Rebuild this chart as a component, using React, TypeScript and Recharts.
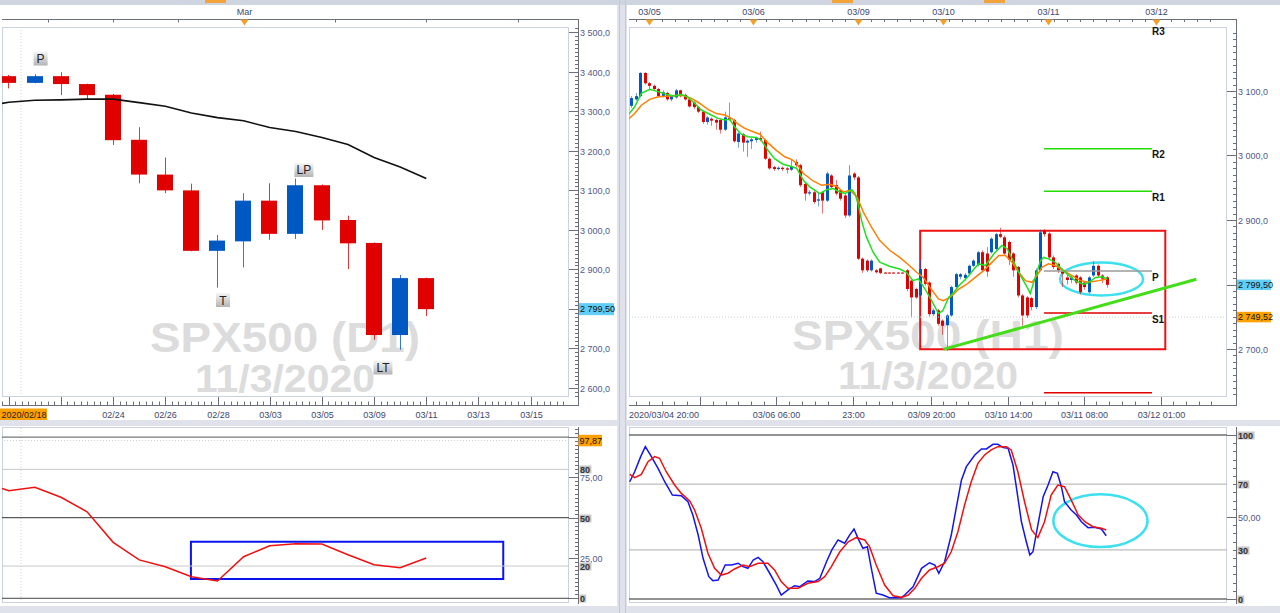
import React from 'react'
import {
  ComposedChart,
  Bar,
  Line,
  XAxis,
  YAxis,
  ReferenceLine,
  ReferenceArea,
  ReferenceDot,
} from 'recharts'

const FONT = '"Liberation Sans", Arial, sans-serif'
const RED = '#e00000'
const BLUE = '#0058c2'
const AXIS_TXT = '#4f5a8a'
const DATE_TXT = '#3c4670'
const RULER = '#6b6f7c'
const FRAME = '#cbd1de'
const ORANGE = '#ffa100'
const CYAN = '#62cdf6'

// ---------- D1 ----------
const dailyDates = ['02/18', '02/19', '02/20', '02/21', '02/24', '02/25', '02/26', '02/27', '02/28', '03/02', '03/03', '03/04', '03/05', '03/06', '03/09', '03/10', '03/11']
const dailyOpen = [3389, 3372, 3389, 3369, 3342, 3228, 3140, 3100, 2947, 2971, 3074, 2990, 3113, 3025, 2967, 2734, 2878]
const dailyHigh = [3392, 3394, 3399, 3370, 3344, 3260, 3183, 3117, 2987, 3093, 3118, 3130, 3115, 3036, 2968, 2886, 2879]
const dailyLow = [3358, 3371, 3341, 3330, 3215, 3118, 3093, 2946, 2854, 2905, 2975, 2977, 3000, 2901, 2722, 2697, 2782]
const dailyClose = [3372, 3389, 3369, 3341, 3227, 3140, 3100, 2947, 2973, 3074, 2990, 3113, 3024, 2966, 2734, 2878, 2799.5]

// [day index, value]
const dailyMa: [number, number][] = [
  [-0.26, 3320], [0, 3323], [1, 3328], [2, 3329], [3, 3331], [4, 3331], [5, 3322], [6, 3313], [7, 3296],
  [8, 3284], [9, 3276], [10, 3259], [11, 3249], [12, 3234], [13, 3216], [14, 3183], [15, 3159], [16, 3130],
]
const dailyRsi: [number, number][] = [
  [-0.26, 68.2], [0, 66.7], [1, 68.9], [2, 62.7], [3, 53.7], [4, 34.7], [5, 23.8], [6, 19.6], [7, 13.4],
  [8, 10.7], [9, 25.8], [10, 32.6], [11, 33.9], [12, 33.7], [13, 27], [14, 20.8], [15, 19], [16, 25],
]

const dailyAxisPos = [4, 6, 8, 10, 12, 14, 16, 18, 20]
const dailyAxisLabels = ['02/24', '02/26', '02/28', '03/03', '03/05', '03/09', '03/11', '03/13', '03/15']
const dailyTopTicks = [1.5, 4, 6.5, 9, 12.5, 16, 19.5]
const dailyMonthTick = 9
const dailyPriceLabels = [2600, 2700, 2900, 3000, 3100, 3200, 3300, 3400, 3500]

// ---------- H1 ----------
const hourlyOpen = [
  3077, 3087, 3092, 3128, 3112, 3108, 3103, 3092, 3097, 3087, 3090, 3101,
  3094, 3087, 3082, 3075, 3068, 3052, 3057, 3055, 3055, 3040, 3058, 3055,
  3021, 3033, 3020, 3022, 3024, 3027, 3024, 2995, 2982, 2979, 2981, 2980,
  2978, 2990, 2985, 2956, 2941, 2943, 2930, 2943, 2930, 2969, 2954, 2946,
  2938, 2907, 2972, 2966, 2840, 2837, 2822, 2822, 2825, 2818.5, 2818.5, 2818.5,
  2818.5, 2818.5, 2822, 2806, 2793, 2783, 2824, 2803, 2754, 2760, 2744, 2737,
  2752, 2796, 2812, 2810, 2817, 2829, 2830, 2850, 2848, 2850, 2855, 2878,
  2873, 2866, 2848, 2827, 2783, 2780, 2779, 2765, 2822, 2883, 2879, 2842,
  2832, 2820, 2811, 2807, 2814, 2811, 2803, 2788, 2814, 2829, 2814, 2811,
]
const hourlyHigh = [
  3092, 3097, 3129, 3129, 3114, 3110, 3105, 3101, 3099, 3094, 3103, 3102,
  3096, 3089, 3084, 3077, 3070, 3061, 3059, 3057, 3057, 3068, 3082, 3057,
  3036, 3035, 3025, 3027, 3029, 3037, 3026, 2997, 2984, 2983, 2983, 2982,
  2994, 2994, 2987, 2958, 2946, 2945, 2943, 2945, 2975, 2971, 2962, 2948,
  2940, 2985, 2974, 2968, 2842, 2839, 2839, 2824, 2826, 2819, 2819, 2819,
  2819, 2819, 2824, 2808, 2795, 2838, 2826, 2805, 2763, 2762, 2746, 2754,
  2798, 2818, 2818, 2818, 2831, 2839, 2852, 2853, 2858, 2873, 2880, 2888,
  2876, 2868, 2850, 2829, 2785, 2782, 2781, 2825, 2885, 2886, 2881, 2845,
  2834, 2825, 2816, 2814, 2816, 2813, 2805, 2813, 2836, 2831, 2816, 2813,
]
const hourlyLow = [
  3074, 3085, 3090, 3110, 3102, 3100, 3090, 3090, 3085, 3084, 3088, 3090,
  3085, 3074, 3072, 3066, 3049, 3048, 3046, 3040, 3034, 3038, 3054, 3020,
  3012, 3006, 2998, 3010, 3020, 3022, 2993, 2978, 2976, 2977, 2976, 2972,
  2976, 2982, 2951, 2930, 2938, 2925, 2921, 2910, 2928, 2948, 2938, 2930,
  2903, 2905, 2962, 2838, 2818, 2819, 2820, 2817, 2816, 2817, 2817, 2817,
  2817, 2817, 2790, 2749, 2778, 2781, 2798, 2750, 2751, 2736, 2722, 2697,
  2750, 2794, 2808, 2806, 2815, 2827, 2828, 2820, 2812, 2848, 2853, 2872,
  2846, 2830, 2812, 2780, 2736, 2748, 2760, 2762, 2820, 2874, 2838, 2824,
  2818, 2796, 2800, 2802, 2800, 2785, 2792, 2786, 2812, 2810, 2802, 2795,
]
const hourlyClose = [
  3089, 3092, 3128, 3112, 3108, 3103, 3092, 3098, 3087, 3092, 3101, 3092,
  3087, 3076, 3075, 3068, 3052, 3059, 3054, 3051, 3040, 3059, 3056, 3022,
  3034, 3020, 3023, 3025, 3027, 3024, 2995, 2980, 2979, 2981, 2979, 2978,
  2983, 2985, 2954, 2941, 2943, 2928, 2932, 2930, 2972, 2951, 2941, 2933,
  2907, 2969, 2966, 2840, 2822, 2822, 2837, 2819, 2818, 2818, 2818, 2818,
  2818, 2818, 2793, 2780, 2780, 2824, 2801, 2754, 2760, 2739, 2736, 2752,
  2796, 2816, 2816, 2815, 2829, 2837, 2850, 2822, 2820, 2871, 2878, 2874,
  2848, 2838, 2822, 2783, 2752, 2752, 2765, 2822, 2881, 2878, 2842, 2827,
  2822, 2817, 2807, 2811, 2803, 2788, 2796, 2811, 2829, 2814, 2809, 2799.5,
]

// [bar index, value]
const emaFast: [number, number][] = [
  [-0.9, 3062.7], [0.6, 3075.6], [2.1, 3096.4], [4.0, 3102.6], [5.9, 3099], [7.7, 3095], [9.6, 3092],
  [11.1, 3095], [12.6, 3090], [14.1, 3081], [15.6, 3070.5], [17.5, 3064], [19.4, 3057.5], [20.9, 3055],
  [22.0, 3056], [23.1, 3044.5], [24.6, 3033], [26.1, 3029], [28.0, 3028], [29.1, 3024], [30.6, 3008],
  [32.1, 2995], [34.0, 2986.5], [35.9, 2983], [37.1, 2980], [38.6, 2961.6], [40.1, 2951], [42.3, 2941],
  [43.8, 2947], [45.3, 2948.7], [46.8, 2943.4], [48.0, 2941], [49.5, 2947], [50.2, 2941], [51.0, 2922.7],
  [51.7, 2899], [52.8, 2873.4], [54.3, 2850], [55.8, 2834.5], [58.1, 2828], [60.3, 2824], [61.8, 2819],
  [63.3, 2806], [64.5, 2808.7], [66.0, 2793], [67.5, 2775], [69.0, 2755], [70.0, 2759.4], [71.3, 2780],
  [72.5, 2788], [73.6, 2798], [75.5, 2811], [77.0, 2824], [78.1, 2832], [79.6, 2829.4], [81.5, 2847.6],
  [83.3, 2860.5], [84.5, 2855.4], [86.0, 2834.5], [87.5, 2813.8], [89.0, 2795.6], [89.7, 2786], [90.8, 2811],
  [92.0, 2837], [92.7, 2842], [93.8, 2839.7], [95.3, 2834.5], [96.8, 2824], [98.4, 2813.8], [99.8, 2806],
  [101.7, 2800], [102.9, 2803.4], [104.4, 2811], [105.9, 2812], [107.0, 2808.7],
]
const emaSlow: [number, number][] = [
  [-0.9, 3056], [0.6, 3065], [2.1, 3078], [4.0, 3087], [5.9, 3091], [7.7, 3092], [9.6, 3093], [11.5, 3093],
  [13.4, 3088.6], [15.2, 3081], [17.1, 3071.5], [19.0, 3065], [20.9, 3062.7], [22.4, 3057.5], [23.9, 3048.7],
  [25.4, 3042], [27.3, 3036.7], [28.8, 3033], [30.6, 3019.6], [32.5, 3008], [34.4, 2998], [35.9, 2994],
  [37.1, 2987.6], [38.6, 2972], [40.8, 2960.5], [42.7, 2953.8], [44.6, 2955.4], [46.1, 2952], [47.6, 2943.4],
  [49.1, 2946], [50.6, 2936.7], [52.1, 2912.3], [54.0, 2888], [55.8, 2868], [58.1, 2852.7], [60.3, 2842],
  [62.2, 2831], [64.1, 2819], [65.6, 2811], [67.1, 2795.6], [69.0, 2777.6], [70.1, 2775], [71.6, 2780],
  [72.5, 2785.4], [73.6, 2793], [75.5, 2801], [77.3, 2811], [79.2, 2821.6], [80.7, 2832], [82.6, 2845],
  [84.1, 2845], [85.6, 2834.5], [87.1, 2819], [88.6, 2806], [90.1, 2803.4], [91.2, 2813.8], [92.3, 2826.7],
  [93.8, 2832], [95.3, 2829.4], [97.2, 2821.6], [99.1, 2813.8], [101.0, 2806], [102.9, 2803.4], [105.1, 2806],
  [107.0, 2808.7],
]
const stochK: [number, number][] = [
  [-0.52, 71.5], [0.6, 77.6], [1.95, 86.8], [3.0, 92.9], [4.36, 86.8], [5.86, 79.7], [7.36, 71.5], [9.09, 63.4],
  [11.1, 63], [12.6, 59.3], [13.7, 51.2], [14.9, 39], [16.0, 24.8], [17.3, 13.6], [18.2, 11.2], [19.4, 11.6],
  [21.0, 20.7], [22.4, 20.7], [23.9, 21.8], [25.0, 19.7], [26.1, 18.7], [27.3, 23.8], [28.4, 25.4], [29.5, 22.7],
  [31.0, 15.7], [32.5, 8.5], [33.6, 2.4], [35.1, 5.5], [36.6, 8.1], [37.8, 7.5], [39.6, 11], [41.1, 10.6],
  [42.3, 12.6], [43.8, 22.7], [45.0, 29.9], [46.4, 36], [47.9, 34], [49.0, 39], [50.0, 42.7], [50.9, 37],
  [52.0, 30.9], [53.0, 31.9], [53.9, 18.7], [55.0, 3.5], [56.5, 2.4], [58.0, 0.8], [60.7, 0.8], [61.4, 2.4],
  [63.3, 7.5], [65.2, 18.7], [67.0, 22.1], [68.2, 20.7], [69.1, 15.7], [70.4, 22.7], [71.9, 39], [73.0, 55.3],
  [74.2, 72.6], [75.3, 80.7], [77.2, 87.8], [78.7, 91.5], [79.8, 91.5], [81.3, 94.3], [82.4, 94.3], [83.6, 92.3],
  [84.7, 91.9], [85.8, 81.7], [86.6, 67.5], [87.7, 47.1], [88.8, 34.9], [89.6, 26.8], [90.3, 28.8], [91.4, 45.1],
  [92.6, 62.4], [93.7, 69.5], [94.8, 77.6], [95.8, 76.6], [96.7, 68.5], [97.4, 59.3], [98.9, 54.3], [100.1, 51.2],
  [101.2, 47.1], [102.7, 43.5], [104.2, 43.7], [105.7, 42.7], [106.8, 38.6],
]
const stochD: [number, number][] = [
  [-0.52, 76], [0.6, 74], [2.1, 76], [3.6, 83.7], [5.1, 86.8], [6.2, 85.8], [7.7, 77.6], [9.6, 69.5], [11.1, 64.4],
  [13.0, 59.8], [14.1, 54.3], [15.6, 43.1], [17.1, 27.9], [18.6, 18.7], [20.1, 14.6], [21.6, 15.7], [23.1, 18.3],
  [25.0, 20.7], [26.5, 19.7], [28.4, 21.8], [30.6, 21.8], [32.1, 17.7], [33.6, 10.6], [35.1, 6.5], [37.4, 6.5],
  [39.6, 9.6], [41.9, 10.6], [43.4, 13.6], [44.9, 19.7], [46.8, 28.8], [48.7, 34.9], [50.5, 37.4], [52.4, 36],
  [53.5, 31.9], [55.0, 20.7], [56.9, 8.5], [58.8, 2], [60.7, 1], [62.2, 2.4], [63.7, 6.5], [65.2, 12.6],
  [67.0, 17.7], [68.9, 19.7], [70.4, 21.8], [71.9, 28.8], [73.4, 41], [74.9, 57.3], [76.4, 71.5], [77.9, 82.7],
  [79.4, 87.8], [80.9, 90.9], [82.4, 92.9], [84.3, 92.9], [85.4, 90.9], [86.9, 77.6], [88.4, 59.3], [90.0, 42.1],
  [91.4, 37.4], [92.9, 47.1], [94.4, 63.4], [95.9, 69.5], [97.4, 68.5], [98.9, 60.4], [100.5, 51.2], [102.0, 47.1],
  [103.8, 44.1], [105.7, 43.1], [106.8, 42.1],
]

const pivotNames = ['R3', 'R2', 'R1', 'P', 'S1', 'S2']
const pivotLevels = [3201.6, 3010.5, 2944.5, 2820.9, 2755.8, 2632.2]
const pivotColors = ['#22dd00', '#22dd00', '#22dd00', '#9a9a9a', '#e00000', '#e00000']

const hourlyTopPos = [3.8, 27.3, 50.8, 70.1, 93.6, 118.1]
const hourlyTopLabels = ['03/05', '03/06', '03/09', '03/10', '03/11', '03/12']
const hourlyAxisPos = [15.3, 32.4, 49.8, 67.3, 84.6, 101.9, 119.1]
const hourlyAxisLabels = ['', '03/06 06:00', '23:00', '03/09 20:00', '03/10 14:00', '03/11 08:00', '03/12 01:00']
const hourlyPriceLabels = [2700, 2900, 3000, 3100]

// ---------- scales ----------
const D1_X: [number, number] = [-0.26, 21.47]
const D1_Y: [number, number] = [2577.2, 3513.4]
const H1_X: [number, number] = [-0.68, 134]
const H1_Y: [number, number] = [2625.6, 3199.2]
const RSI_Y: [number, number] = [-2.92, 106.27]
const STO_Y: [number, number] = [-2.44, 104.88]

const steps = (a: number, b: number, s: number) => {
  const out: number[] = []
  for (let v = a; v <= b + 1e-9; v += s) out.push(Math.round(v * 1000) / 1000)
  return out
}
const pts = (a: [number, number][]) => a.map(([x, v]) => ({ x, v }))

const dailyData = dailyOpen.map((o, i) => ({
  x: i, date: dailyDates[i], o, h: dailyHigh[i], l: dailyLow[i], c: dailyClose[i], range: [dailyLow[i], dailyHigh[i]],
}))
const hourlyData = hourlyOpen.map((o, i) => ({
  x: i, o, h: hourlyHigh[i], l: hourlyLow[i], c: hourlyClose[i], range: [hourlyLow[i], hourlyHigh[i]],
}))

const fmtPrice = (v: number) => `${Math.floor(v / 1000)} ${String(v % 1000).padStart(3, '0')},0`

function candleShape(bodyW: number, wickOpacity: number) {
  return (p: any) => {
    const d = p.payload
    if (!d || !isFinite(p.y) || !isFinite(p.height)) return <g />
    const top = Math.min(p.y, p.y + p.height)
    const h = Math.abs(p.height)
    const k = h / (d.h - d.l)
    const py = (v: number) => top + (d.h - v) * k
    const left = Math.round(p.x + p.width / 2 - bodyW / 2)
    const cx = left + Math.floor(bodyW / 2) + 0.5
    const col = d.c > d.o ? BLUE : RED
    const b1 = py(Math.max(d.o, d.c))
    const b2 = py(Math.min(d.o, d.c))
    return (
      <g>
        <line x1={cx} x2={cx} y1={top} y2={top + h} stroke={col} strokeOpacity={wickOpacity} />
        <rect x={left} y={b1} width={bodyW} height={Math.max(1, b2 - b1)} fill={col} />
      </g>
    )
  }
}

function priceTick(plotR: number, axisX: number, labels: number[]) {
  return (p: any) => {
    const v: number = p.payload.value
    const y = Math.round(p.y) + 0.5
    const major = v % 100 === 0
    return (
      <g>
        <line x1={major ? plotR : axisX - 3} x2={axisX} y1={y} y2={y} stroke={RULER} />
        {labels.includes(v) && (
          <text x={axisX + 2} y={y + 3.5} fontSize={9} fill={AXIS_TXT} fontFamily={FONT}>{fmtPrice(v)}</text>
        )}
      </g>
    )
  }
}

function levelTick(plotR: number, axisX: number, majorStep: number, boxed: number[], plain: Record<string, string>) {
  return (p: any) => {
    const v: number = p.payload.value
    const y = Math.round(p.y) + 0.5
    const major = v % majorStep === 0
    const isBox = boxed.includes(v)
    const txt = String(v)
    const w = txt.length * 5.2 + 1.5
    return (
      <g>
        <line x1={major ? plotR : axisX - 3} x2={axisX} y1={y} y2={y} stroke={RULER} />
        {isBox && <rect x={axisX + 1.5} y={y - 4} width={w} height={8} fill="#c6c6c6" />}
        {isBox && (
          <text x={axisX + 2} y={y + 3.3} fontSize={9} fontWeight="bold" fill="#333" fontFamily={FONT}>{txt}</text>
        )}
        {plain[String(v)] && (
          <text x={axisX + 2} y={y + 3.5} fontSize={9} fill={AXIS_TXT} fontFamily={FONT}>{plain[String(v)]}</text>
        )}
      </g>
    )
  }
}

function axisBox(text: string, bg: string, dx: number, w: number, h: number) {
  return (p: any) => (
    <g>
      <rect x={p.cx + dx} y={p.cy - h / 2} width={w} height={h} fill={bg} />
      <text x={p.cx + dx + 1} y={p.cy + 3.3} fontSize={9} fill="#111" fontFamily={FONT}>{text}</text>
    </g>
  )
}

function badge(text: string) {
  return (p: any) => {
    const w = text.length > 1 ? 19 : 14
    const id = `bdg${text}`
    return (
      <g>
        <defs>
          <linearGradient id={id} x1="0" y1="0" x2="0" y2="1">
            <stop offset="0" stopColor="#f6f6f6" />
            <stop offset="1" stopColor="#b4b4b4" />
          </linearGradient>
        </defs>
        <rect x={p.cx - w / 2} y={p.cy - 7} width={w} height={14} fill={`url(#${id})`} />
        <text x={p.cx} y={p.cy + 4.5} textAnchor="middle" fontSize={12} fill="#222" fontFamily={FONT}>{text}</text>
      </g>
    )
  }
}

function pivotLabel(text: string) {
  return (p: any) => (
    <text x={p.cx} y={p.cy + 9.5} fontSize={10} fontWeight="bold" fill="#111" fontFamily={FONT}>{text}</text>
  )
}

function ellipseShape(stroke: string) {
  return (p: any) => (
    <ellipse cx={p.x + p.width / 2} cy={p.y + p.height / 2} rx={p.width / 2} ry={p.height / 2}
      fill="none" stroke={stroke} strokeWidth={2.5} />
  )
}

function triangle(x: number) {
  return <polygon points={`${x - 4},19.5 ${x + 4},19.5 ${x},25.5`} fill="#f2a02a" />
}

// ---- tick renderers (chart local coords) ----
function DailyTopTick(p: any) {
  const v: number = p.payload.value
  const x = Math.round(p.x) + 0.5
  return (
    <g>
      <line x1={x} x2={x} y1={19} y2={22.5} stroke={RULER} />
      {v === dailyMonthTick && triangle(x)}
      {v === dailyMonthTick && (
        <text x={x} y={15} textAnchor="middle" fontSize={9} fill={DATE_TXT} fontFamily={FONT}>Mar</text>
      )}
    </g>
  )
}

function DailyBottomTick(p: any) {
  const v: number = p.payload.value
  const x = Math.round(p.x) + 0.5
  if (v === D1_X[0]) {
    return (
      <g>
        <rect x={0} y={408.5} width={47} height={11.5} fill={ORANGE} />
        <text x={1.5} y={417.5} fontSize={9} fill="#1e1e1e" fontFamily={FONT}>{'2020/' + dailyDates[0]}</text>
      </g>
    )
  }
  const li = dailyAxisPos.indexOf(v)
  const major = v % 2 === 0
  return (
    <g>
      <line x1={x} x2={x} y1={major ? 397 : 401.5} y2={405.5} stroke={RULER} />
      {li >= 0 && (
        <text x={x} y={417.5} textAnchor="middle" fontSize={9} fill={DATE_TXT} fontFamily={FONT}>{dailyAxisLabels[li]}</text>
      )}
    </g>
  )
}

function HourlyTopTick(p: any) {
  const v: number = p.payload.value
  const x = Math.round(p.x) + 0.5
  const li = hourlyTopPos.indexOf(v)
  return (
    <g>
      <line x1={x} x2={x} y1={19} y2={22} stroke={RULER} />
      {li >= 0 && triangle(x)}
      {li >= 0 && (
        <text x={x} y={15} textAnchor="middle" fontSize={9} fill={DATE_TXT} fontFamily={FONT}>{hourlyTopLabels[li]}</text>
      )}
    </g>
  )
}

function HourlyBottomTick(p: any) {
  const v: number = p.payload.value
  const x = Math.round(p.x) + 0.5
  if (v === H1_X[0]) {
    return (
      <text x={2} y={417.5} fontSize={9} fill={DATE_TXT} fontFamily={FONT}>2020/03/04 20:00</text>
    )
  }
  const li = hourlyAxisPos.indexOf(v)
  return (
    <g>
      <line x1={x} x2={x} y1={li >= 0 ? 397 : 401.5} y2={405.5} stroke={RULER} />
      {li >= 0 && hourlyAxisLabels[li] && (
        <text x={x} y={417.5} textAnchor="middle" fontSize={9} fill={DATE_TXT} fontFamily={FONT}>{hourlyAxisLabels[li]}</text>
      )}
    </g>
  )
}

const notNear = (list: number[], gap: number) => (v: number) => list.every((m) => Math.abs(m - v) > gap)

const dailyBottomTicks = [D1_X[0], ...steps(-0.25, 21.25, 0.25)]
const hourlyTopTicks = [...hourlyTopPos, ...steps(0.86, 133, 2.94).filter(notNear(hourlyTopPos, 1))].sort((a, b) => a - b)
const hourlyBottomTicks = [H1_X[0], ...hourlyAxisPos, ...steps(0.9, 133, 2.88).filter(notNear(hourlyAxisPos, 1))].sort((a, b) => a - b)

const abs = (left: number, top: number, width: number, height: number, extra: React.CSSProperties = {}): React.CSSProperties => ({
  position: 'absolute', left, top, width, height, ...extra,
})

export default function App() {
  return (
    <div style={{ position: 'fixed', left: 0, top: 0, width: 1280, height: 613, background: '#dfe2eb', overflow: 'hidden', fontFamily: FONT }}>
      {/* toolbar strip */}
      <div style={abs(0, 0, 1280, 5, { background: '#cfd4e1' })} />
      <div style={abs(205, 0, 21, 3, { background: '#f2a33a' })} />
      <div style={abs(832, 0, 21, 3, { background: '#f2a33a' })} />
      <div style={abs(984, 0, 21, 3, { background: '#f2a33a' })} />

      {/* panels */}
      <div style={abs(0, 5, 617, 415, { background: '#fff' })} />
      <div style={abs(627, 5, 653, 415, { background: '#fff' })} />
      <div style={abs(0, 426, 617, 180, { background: '#fff' })} />
      <div style={abs(627, 426, 653, 180, { background: '#fff' })} />
      <div style={abs(619, 0, 1, 613, { background: '#c3c8d6' })} />
      <div style={abs(625, 0, 1, 613, { background: '#c3c8d6' })} />

      {/* plot frames */}
      <div style={abs(2, 27, 567, 370, { boxSizing: 'border-box', border: `1px solid ${FRAME}` })} />
      <div style={abs(629, 27, 598, 370, { boxSizing: 'border-box', border: `1px solid ${FRAME}` })} />
      <div style={abs(2, 427, 567, 176, { boxSizing: 'border-box', border: `1px solid ${FRAME}` })} />
      <div style={abs(629, 427, 598, 176, { boxSizing: 'border-box', border: `1px solid ${FRAME}` })} />

      {/* rulers */}
      <div style={abs(2, 19, 577, 1, { background: RULER })} />
      <div style={abs(2, 405, 577, 1, { background: RULER })} />
      <div style={abs(578, 19, 1, 387, { background: RULER })} />
      <div style={abs(629, 19, 608, 1, { background: RULER })} />
      <div style={abs(629, 405, 608, 1, { background: RULER })} />
      <div style={abs(1236, 19, 1, 387, { background: RULER })} />
      <div style={abs(578, 427, 1, 177, { background: RULER })} />
      <div style={abs(1236, 427, 1, 177, { background: RULER })} />

      {/* watermarks */}
      <svg width={1280} height={613} style={{ position: 'absolute', left: 0, top: 0 }}>
        <g fontFamily={FONT} fontWeight="bold" fill="#dcdcdc" textAnchor="middle">
          <text x={285} y={352} fontSize={42} textLength={270} lengthAdjust="spacingAndGlyphs">SPX500 (D1)</text>
          <text x={285} y={392} fontSize={38} textLength={180} lengthAdjust="spacingAndGlyphs">11/3/2020</text>
          <text x={928} y={350} fontSize={42} textLength={272} lengthAdjust="spacingAndGlyphs">SPX500 (H1)</text>
          <text x={928} y={389} fontSize={38} textLength={180} lengthAdjust="spacingAndGlyphs">11/3/2020</text>
        </g>
      </svg>

      {/* D1 price */}
      <div style={abs(0, 0, 618, 421)}>
        <ComposedChart width={618} height={421} data={dailyData} margin={{ top: 0, right: 0, bottom: 0, left: 2 }}>
          <XAxis xAxisId="top" orientation="top" type="number" dataKey="x" domain={D1_X} allowDataOverflow height={27}
            ticks={dailyTopTicks} interval={0} tick={DailyTopTick} axisLine={false} tickLine={false} />
          <XAxis type="number" dataKey="x" domain={D1_X} allowDataOverflow height={24}
            ticks={dailyBottomTicks} interval={0} tick={DailyBottomTick} axisLine={false} tickLine={false} />
          <YAxis orientation="right" type="number" domain={D1_Y} allowDataOverflow width={49}
            ticks={steps(2580, 3510, 10)} interval={0} tick={priceTick(569, 578, dailyPriceLabels)} axisLine={false} tickLine={false} />
          <ReferenceLine x={0.47} stroke="#d6d6d6" strokeDasharray="1 2" />
          <Bar dataKey="range" barSize={16} shape={candleShape(16, 0.8)} isAnimationActive={false} />
          <Line data={pts(dailyMa)} dataKey="v" type="linear" stroke="#111" strokeWidth={1.6} dot={false} activeDot={false} isAnimationActive={false} />
          <ReferenceDot x={1.22} y={3433.7} r={0} ifOverflow="visible" shape={badge('P')} />
          <ReferenceDot x={11.31} y={3151.6} r={0} ifOverflow="visible" shape={badge('LP')} />
          <ReferenceDot x={8.21} y={2822.6} r={0} ifOverflow="visible" shape={badge('T')} />
          <ReferenceDot x={14.34} y={2651.8} r={0} ifOverflow="visible" shape={badge('LT')} />
          <ReferenceDot x={D1_X[1]} y={2799.5} r={0} ifOverflow="visible" shape={axisBox('2 799,50', CYAN, 10, 35, 12)} />
        </ComposedChart>
      </div>

      {/* H1 price */}
      <div style={abs(627, 0, 653, 421)}>
        <ComposedChart width={653} height={421} data={hourlyData} margin={{ top: 0, right: 0, bottom: 0, left: 2 }}>
          <XAxis xAxisId="top" orientation="top" type="number" dataKey="x" domain={H1_X} allowDataOverflow height={27}
            ticks={hourlyTopTicks} interval={0} tick={HourlyTopTick} axisLine={false} tickLine={false} />
          <XAxis type="number" dataKey="x" domain={H1_X} allowDataOverflow height={24}
            ticks={hourlyBottomTicks} interval={0} tick={HourlyBottomTick} axisLine={false} tickLine={false} />
          <YAxis orientation="right" type="number" domain={H1_Y} allowDataOverflow width={53}
            ticks={steps(2630, 3190, 10)} interval={0} tick={priceTick(600, 609, hourlyPriceLabels)} axisLine={false} tickLine={false} />
          <ReferenceLine y={2749.52} stroke="#cfcfcf" strokeDasharray="1 2" />
          {pivotLevels.map((lv, i) => (
            <ReferenceLine key={pivotNames[i]} segment={[{ x: 92.8, y: lv }, { x: 117.1, y: lv }]}
              stroke={pivotColors[i]} strokeWidth={1.5} />
          ))}
          <ReferenceArea x1={64.9} x2={120.1} y1={2699.5} y2={2883.4} fill="none" stroke="#ee1111" strokeWidth={2} />
          <Bar dataKey="range" barSize={3} shape={candleShape(3, 0.55)} isAnimationActive={false} />
          <Line data={pts(emaSlow)} dataKey="v" type="linear" stroke="#ff7f00" strokeWidth={1.5} dot={false} activeDot={false} isAnimationActive={false} />
          <Line data={pts(emaFast)} dataKey="v" type="linear" stroke="#1ee11e" strokeWidth={1.5} dot={false} activeDot={false} isAnimationActive={false} />
          <ReferenceLine segment={[{ x: 70.1, y: 2699.5 }, { x: 127.1, y: 2808.1 }]} stroke="#44dd1a" strokeWidth={3} />
          <ReferenceArea x1={96.4} x2={115.1} y1={2782.9} y2={2834.1} shape={ellipseShape('#3de0ee')} />
          {pivotLevels.slice(0, 5).map((lv, i) => (
            <ReferenceDot key={'l' + pivotNames[i]} x={117.1} y={lv} r={0} ifOverflow="visible" shape={pivotLabel(pivotNames[i])} />
          ))}
          <ReferenceDot x={H1_X[1]} y={2799.5} r={0} ifOverflow="visible" shape={axisBox('2 799,50', CYAN, 10, 34, 10.5)} />
          <ReferenceDot x={H1_X[1]} y={2749.52} r={0} ifOverflow="visible" shape={axisBox('2 749,52', ORANGE, 10, 34, 10.5)} />
        </ComposedChart>
      </div>

      {/* D1 RSI */}
      <div style={abs(0, 420, 618, 190)}>
        <ComposedChart width={618} height={190} data={pts(dailyRsi)} margin={{ top: 7, right: 0, bottom: 7, left: 2 }}>
          <XAxis type="number" dataKey="x" domain={D1_X} allowDataOverflow hide />
          <YAxis orientation="right" type="number" domain={RSI_Y} allowDataOverflow width={49}
            ticks={steps(0, 105, 2.5)} interval={0} axisLine={false} tickLine={false}
            tick={levelTick(569, 578, 25, [80, 50, 20, 0], { '75': '75,00', '25': '25,00' })} />
          <ReferenceLine x={0.47} stroke="#d6d6d6" strokeDasharray="1 2" />
          <ReferenceLine y={97.87} stroke="#cfcfcf" strokeDasharray="1 2" />
          <ReferenceLine y={100} stroke="#555" />
          <ReferenceLine y={80} stroke="#c8c8c8" />
          <ReferenceLine y={50} stroke="#333" />
          <ReferenceLine y={20} stroke="#c8c8c8" />
          <ReferenceLine y={0} stroke="#444" />
          <ReferenceArea x1={6.98} x2={18.95} y1={12} y2={35.1} fill="none" stroke="#0a14ee" strokeWidth={2} />
          <Line dataKey="v" type="linear" stroke="#f01010" strokeWidth={1.5} dot={false} activeDot={false} isAnimationActive={false} />
          <ReferenceDot x={D1_X[1]} y={97.87} r={0} ifOverflow="visible" shape={axisBox('97,87', ORANGE, 9.5, 23.5, 11.5)} />
        </ComposedChart>
      </div>

      {/* H1 stochastic */}
      <div style={abs(627, 420, 653, 190)}>
        <ComposedChart width={653} height={190} data={pts(stochK)} margin={{ top: 7, right: 0, bottom: 7, left: 2 }}>
          <XAxis type="number" dataKey="x" domain={H1_X} allowDataOverflow hide />
          <YAxis orientation="right" type="number" domain={STO_Y} allowDataOverflow width={53}
            ticks={steps(0, 100, 5)} interval={0} axisLine={false} tickLine={false}
            tick={levelTick(600, 609, 50, [100, 70, 30, 0], { '50': '50,00' })} />
          <ReferenceLine y={100} stroke="#6e6e6e" strokeWidth={1.6} />
          <ReferenceLine y={70} stroke="#bdbdbd" strokeWidth={1.2} />
          <ReferenceLine y={30} stroke="#bdbdbd" strokeWidth={1.2} />
          <ReferenceLine y={0} stroke="#6e6e6e" strokeWidth={1.6} />
          <Line dataKey="v" type="linear" stroke="#1414ee" strokeWidth={1.5} dot={false} activeDot={false} isAnimationActive={false} />
          <Line data={pts(stochD)} dataKey="v" type="linear" stroke="#f01010" strokeWidth={1.5} dot={false} activeDot={false} isAnimationActive={false} />
          <ReferenceArea x1={94.9} x2={116.1} y1={31.7} y2={63.8} shape={ellipseShape('#3de0ee')} />
        </ComposedChart>
      </div>
    </div>
  )
}
